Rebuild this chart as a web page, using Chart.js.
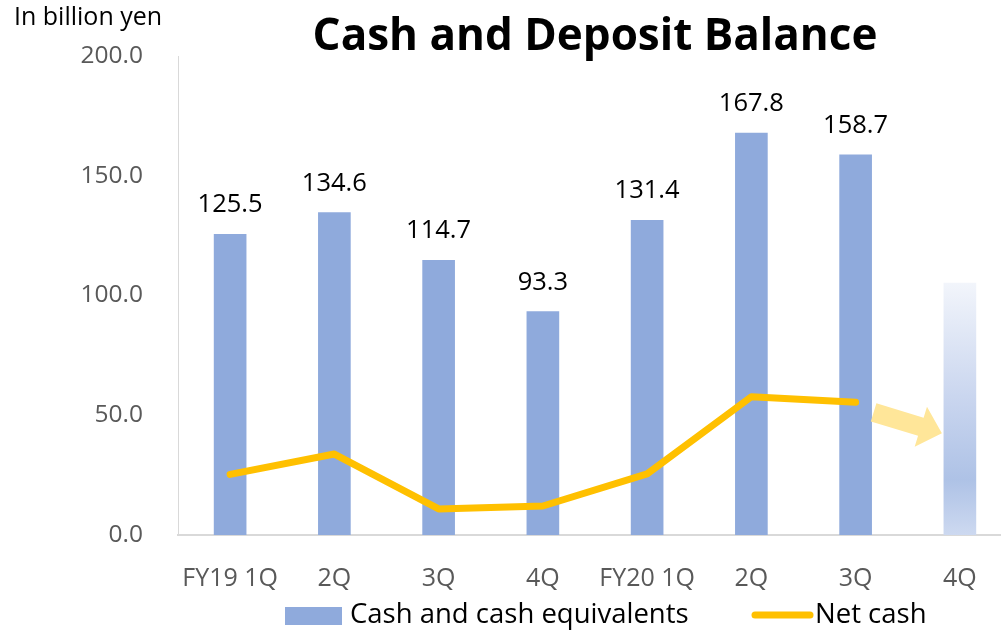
<!DOCTYPE html>
<html>
<head>
<meta charset="utf-8">
<script src="https://cdn.jsdelivr.net/npm/chart.js@4.4.1/dist/chart.umd.min.js"></script>
<style>
  html, body { margin: 0; padding: 0; background: #ffffff; overflow: hidden; }
  #wrap { width: 1012px; height: 630px; }
</style>
</head>
<body>
<div id="wrap"><canvas id="chart" width="1012" height="630"></canvas></div>
<script>
// ---------- data ----------
const categories = ['FY19 1Q', '2Q', '3Q', '4Q', 'FY20 1Q', '2Q', '3Q', '4Q'];
const cashValues = [125.5, 134.6, 114.7, 93.3, 131.4, 167.8, 158.7, 105.2];
const netCashValues = [25.3, 33.8, 10.9, 12.1, 25.5, 57.7, 55.4, null];
const yTickValues = [0, 50, 100, 150, 200];
const forecastIndex = 7;           // last bar = forecast (faded)
const arrowTargetValue = 42.5;     // where the forecast arrow points

// ---------- styles ----------
const FONT = "'Open Sans', 'Noto Sans', sans-serif";
const BAR_COLOR = '#8FAADC';
const LINE_COLOR = '#FFC000';
const ARROW_COLOR = '#FFE699';
const AXIS_COLOR = '#D9D9D9';
const TICK_COLOR = '#595959';

function forecastFill(ctx) {
  const chart = ctx.chart;
  const area = chart.chartArea;
  if (!area) return 'rgba(0,0,0,0)';
  const y = chart.scales.y;
  const top = y.getPixelForValue(cashValues[forecastIndex]);
  const bottom = y.getPixelForValue(0);
  const g = chart.ctx.createLinearGradient(0, top, 0, bottom);
  g.addColorStop(0, '#F2F5FB');
  g.addColorStop(0.45, '#CAD6EF');
  g.addColorStop(0.78, '#AEC2E6');
  g.addColorStop(1, '#CDD9F0');
  return g;
}

const extrasPlugin = {
  id: 'extras',
  afterDatasetsDraw(chart) {
    const ctx = chart.ctx;
    const xs = chart.scales.x, ys = chart.scales.y;
    const barMeta = chart.getDatasetMeta(1);

    // value labels above bars
    ctx.save();
    ctx.fillStyle = '#000000';
    ctx.font = "25.5px " + FONT;
    ctx.textAlign = 'center';
    ctx.textBaseline = 'alphabetic';
    barMeta.data.forEach((bar, i) => {
      if (i === forecastIndex) return;
      ctx.fillText(cashValues[i].toFixed(1), bar.x, bar.y - 22);
    });
    ctx.restore();

    // forecast arrow
    const tx = xs.getPixelForValue(forecastIndex - 1) + 18;
    const ty = ys.getPixelForValue(netCashValues[forecastIndex - 1]) + 10;
    const hx = xs.getPixelForValue(forecastIndex) - 18;
    const hy = ys.getPixelForValue(arrowTargetValue);
    const dx = hx - tx, dy = hy - ty, len = Math.hypot(dx, dy);
    const ux = dx / len, uy = dy / len, nx = -uy, ny = ux;
    const sw = 9.5, hw = 21, hl = 22;
    const bx = hx - ux * hl, by = hy - uy * hl;
    ctx.save();
    ctx.fillStyle = ARROW_COLOR;
    ctx.beginPath();
    ctx.moveTo(tx + nx * sw, ty + ny * sw);
    ctx.lineTo(bx + nx * sw, by + ny * sw);
    ctx.lineTo(bx + nx * hw, by + ny * hw);
    ctx.lineTo(hx, hy);
    ctx.lineTo(bx - nx * hw, by - ny * hw);
    ctx.lineTo(bx - nx * sw, by - ny * sw);
    ctx.lineTo(tx - nx * sw, ty - ny * sw);
    ctx.closePath();
    ctx.fill();
    ctx.restore();
  },
  afterDraw(chart) {
    const ctx = chart.ctx;
    ctx.save();
    // unit label
    ctx.fillStyle = '#000000';
    ctx.font = "25px " + FONT;
    ctx.textAlign = 'left';
    ctx.textBaseline = 'middle';
    ctx.fillText('In billion yen', 14, 18);

    // legend
    const ly = 615;
    ctx.font = "27.5px " + FONT;
    ctx.fillStyle = BAR_COLOR;
    ctx.fillRect(285, 607, 57, 18);
    ctx.fillStyle = '#000000';
    ctx.fillText(chart.data.datasets[1].label, 350, ly);
    ctx.strokeStyle = LINE_COLOR;
    ctx.lineWidth = 7;
    ctx.lineCap = 'round';
    ctx.beginPath();
    ctx.moveTo(755, 615);
    ctx.lineTo(810, 615);
    ctx.stroke();
    ctx.fillText(chart.data.datasets[0].label, 815, ly);
    ctx.restore();
  }
};

new Chart(document.getElementById('chart'), {
  data: {
    labels: categories,
    datasets: [
      {
        type: 'line',
        label: 'Net cash',
        data: netCashValues,
        borderColor: LINE_COLOR,
        backgroundColor: LINE_COLOR,
        borderWidth: 7,
        borderCapStyle: 'round',
        borderJoinStyle: 'round',
        pointRadius: 0,
        pointHoverRadius: 0,
        tension: 0,
        order: 0
      },
      {
        type: 'bar',
        label: 'Cash and cash equivalents',
        data: cashValues,
        backgroundColor: (c) => c.dataIndex === forecastIndex ? forecastFill(c) : BAR_COLOR,
        borderWidth: 0,
        barThickness: 32,
        order: 1
      }
    ]
  },
  options: {
    responsive: false,
    animation: false,
    devicePixelRatio: 1,
    layout: { padding: { left: 0, right: 0, top: 0, bottom: 0 } },
    plugins: {
      legend: { display: false },
      tooltip: { enabled: false },
      title: {
        display: true,
        text: 'Cash and Deposit Balance',
        color: '#000000',
        fullSize: false,
        font: { family: FONT, size: 44, weight: 'bold', lineHeight: 1 },
        padding: { top: 15, bottom: -3 }
      }
    },
    scales: {
      x: {
        grid: { display: false },
        border: { display: true, color: AXIS_COLOR, width: 2 },
        ticks: { color: TICK_COLOR, font: { family: FONT, size: 25 }, padding: 21, maxRotation: 0, autoSkip: false },
        afterFit(scale) { scale.height = 95; }
      },
      y: {
        min: 0,
        max: 200,
        grid: { display: false },
        border: { display: true, color: AXIS_COLOR, width: 1 },
        afterBuildTicks(scale) { scale.ticks = yTickValues.map(v => ({ value: v })); },
        ticks: { color: TICK_COLOR, font: { family: FONT, size: 24.5 }, padding: 27, callback: (v) => Number(v).toFixed(1) },
        afterFit(scale) { scale.width = 178; }
      }
    }
  },
  plugins: [extrasPlugin]
});
</script>
</body>
</html>
